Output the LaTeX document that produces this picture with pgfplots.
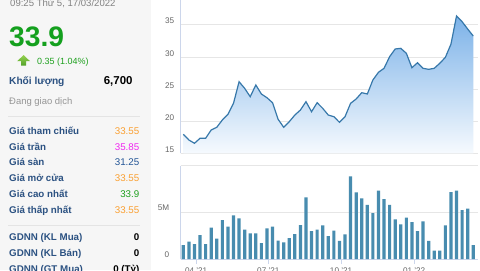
\documentclass[border=0pt]{standalone}
\usepackage{fontspec}
\setmainfont{Liberation Sans}
\usepackage{pgfplots}
\pgfplotsset{compat=1.18}
\usepackage{pgfplotstable}

\definecolor{panelbg}{RGB}{246,246,246}
\definecolor{lblblue}{RGB}{44,82,130}
\definecolor{valorange}{RGB}{250,160,50}
\definecolor{valmag}{RGB}{240,40,240}
\definecolor{valblue}{RGB}{35,85,150}
\definecolor{valgreen}{RGB}{30,160,30}
\definecolor{biggreen}{RGB}{20,160,30}
\definecolor{sepc}{RGB}{228,228,228}
\definecolor{gridc}{RGB}{230,230,230}
\definecolor{axisc}{RGB}{204,214,235}
\definecolor{tickc}{RGB}{102,102,102}
\definecolor{linec}{RGB}{55,120,170}
\definecolor{areatop}{RGB}{124,178,232}
\definecolor{areabot}{RGB}{246,250,254}
\definecolor{barc}{RGB}{72,140,175}

\pgfplotstableread{
i p v
0 17.96 1.5
1 17.07 1.86
2 16.56 1.6
3 17.34 2.57
4 17.34 1.6
5 18.63 3.36
6 19.05 2.18
7 20.19 4.18
8 21.07 3.46
9 22.79 4.68
10 26.15 4.36
11 25.12 3.14
12 23.82 2.75
13 25.64 2.75
14 24.24 1.71
15 23.66 3.29
16 22.88 3.46
17 20.3 1.96
18 19.05 1.79
19 19.92 2.25
20 20.96 2.68
21 21.74 3.64
22 23.04 6.6
23 21.48 3.0
24 22.88 3.14
25 22.0 3.6
26 20.96 2.46
27 20.7 3.04
28 19.83 1.93
29 20.7 2.64
30 22.79 8.86
31 23.46 7.14
32 24.44 6.5
33 24.24 5.79
34 26.42 4.93
35 27.62 7.32
36 28.24 6.43
37 30.05 5.79
38 31.25 4.25
39 31.35 3.71
40 30.58 4.43
41 28.33 3.96
42 29.11 3.0
43 28.24 4.04
44 28.08 1.93
45 28.24 0.89
46 29.02 0.89
47 29.95 3.6
48 32.0 7.18
49 36.39 7.32
50 35.5 5.25
51 34.36 5.39
52 33.27 1.5
}\data

\begin{document}
\begin{tikzpicture}[x=1bp,y=1bp]
\useasboundingbox (0,0) rectangle (480,270);
\clip (0,0) rectangle (480,270);
\fill[white] (0,0) rectangle (480,270);
\fill[panelbg] (0,0) rectangle (151,270);

% left panel
\node[anchor=base west, inner sep=0pt, text={rgb,255:red,130;green,130;blue,130}, font=\fontsize{9.6}{11}\selectfont] at (10,263.5) {09:25 Thứ 5, 17/03/2022};
\node[anchor=base west, inner sep=0pt, text=biggreen, font=\fontsize{28.3}{30}\selectfont\bfseries] at (9,223.3) {33.9};
\shade[top color={rgb,255:red,150;green,210;blue,80}, bottom color={rgb,255:red,80;green,160;blue,40}]
  (23.6,215) -- (30,208.8) -- (26.2,208.8) -- (26.2,204.3) -- (21,204.3) -- (21,208.8) -- (17.2,208.8) -- cycle;
\node[anchor=base west, inner sep=0pt, text=valgreen, font=\fontsize{9}{11}\selectfont] at (37,206) {0.35 (1.04\%)};
\node[anchor=base west, inner sep=0pt, text=lblblue, font=\fontsize{10.2}{12}\selectfont\bfseries] at (9,185.3) {Khối lượng};
\node[anchor=base east, inner sep=0pt, text=black, font=\fontsize{11.5}{13}\selectfont\bfseries] at (132.7,185.7) {6,700};
\node[anchor=base west, inner sep=0pt, text={rgb,255:red,150;green,150;blue,150}, font=\fontsize{9.5}{11}\selectfont] at (9,166) {Đang giao dịch};
\draw[sepc, line width=0.8bp] (8,154) -- (140,154);

\begin{scope}[every node/.style={inner sep=0pt, font=\fontsize{9.8}{12}\selectfont}]
\node[anchor=base west, text=lblblue, font=\fontsize{9.8}{12}\selectfont\bfseries] at (9,135.7) {Giá tham chiếu};
\node[anchor=base east, text=valorange] at (139.5,135.7) {33.55};
\node[anchor=base west, text=lblblue, font=\fontsize{9.8}{12}\selectfont\bfseries] at (9,119.9) {Giá trần};
\node[anchor=base east, text=valmag] at (139.5,119.9) {35.85};
\node[anchor=base west, text=lblblue, font=\fontsize{9.8}{12}\selectfont\bfseries] at (9,104.1) {Giá sàn};
\node[anchor=base east, text=valblue] at (139.5,104.1) {31.25};
\node[anchor=base west, text=lblblue, font=\fontsize{9.8}{12}\selectfont\bfseries] at (9,88.3) {Giá mở cửa};
\node[anchor=base east, text=valorange] at (139.5,88.3) {33.55};
\node[anchor=base west, text=lblblue, font=\fontsize{9.8}{12}\selectfont\bfseries] at (9,72.5) {Giá cao nhất};
\node[anchor=base east, text=valgreen] at (139.5,72.5) {33.9};
\node[anchor=base west, text=lblblue, font=\fontsize{9.8}{12}\selectfont\bfseries] at (9,56.7) {Giá thấp nhất};
\node[anchor=base east, text=valorange] at (139.5,56.7) {33.55};
\node[anchor=base west, text=lblblue, font=\fontsize{9.8}{12}\selectfont\bfseries] at (9,29.5) {GDNN (KL Mua)};
\node[anchor=base east, text=black, font=\fontsize{9.8}{12}\selectfont\bfseries] at (139.5,29.5) {0};
\node[anchor=base west, text=lblblue, font=\fontsize{9.8}{12}\selectfont\bfseries] at (9,13.7) {GDNN (KL Bán)};
\node[anchor=base east, text=black, font=\fontsize{9.8}{12}\selectfont\bfseries] at (139.5,13.7) {0};
\node[anchor=base west, text=lblblue, font=\fontsize{9.8}{12}\selectfont\bfseries] at (9,-2.1) {GDNN (GT Mua)};
\node[anchor=base east, text=black, font=\fontsize{9.8}{12}\selectfont\bfseries] at (139.5,-2.1) {0 (Tỷ)};
\end{scope}
\draw[sepc, line width=0.8bp] (8,45) -- (140,45);

% price chart
\begin{axis}[
  at={(180.7bp,116.7bp)}, anchor=south west, scale only axis,
  width=297bp, height=153.3bp,
  xmin=-0.47, xmax=52.8, ymin=15, ymax=38.88,
  axis lines=left, axis line style={-},
  x axis line style={draw=gridc, line width=1bp},
  y axis line style={draw=axisc, line width=1bp},
  xtick=\empty, ytick={15,20,25,30,35},
  ymajorgrids, grid style={draw=gridc, line width=1bp},
  major tick length=0pt,
  yticklabel style={anchor=east, inner sep=0pt, xshift=-6.4bp, yshift=3.8bp,
    font=\fontsize{8.2}{9}\selectfont, text=tickc},
  /pgf/number format/assume math mode=true,
]
\addplot[draw=none, top color=areatop, bottom color=areabot] table[x=i,y=p]{\data} -- (axis cs:52,15) -- (axis cs:0,15) -- cycle;
\addplot[color=linec, line width=1.2bp, mark=none] table[x=i,y=p]{\data};
\end{axis}

% volume chart
\begin{axis}[
  at={(180.7bp,11bp)}, anchor=south west, scale only axis,
  width=297bp, height=93.3bp,
  xmin=-0.47, xmax=52.8, ymin=0, ymax=10,
  axis lines=left, axis line style={-, draw=axisc, line width=1bp},
  ytick={0,5,10}, yticklabels={0,5M,},
  ymajorgrids, grid style={draw=gridc, line width=1bp},
  xtick={2.3,15.25,28.3,41.4},
  xticklabels={04 '21,07 '21,10 '21,01 '22},
  tick align=outside, major tick length=5bp,
  xtick style={draw=axisc, line width=1bp},
  ytick style={draw=none},
  yticklabel style={anchor=east, inner sep=0pt, xshift=-6.4bp, yshift=4.2bp,
    font=\fontsize{8.2}{9}\selectfont, text=tickc},
  xticklabel style={anchor=north, inner sep=0pt, yshift=-3.3bp,
    font=\fontsize{8.2}{9}\selectfont, text=tickc},
  /pgf/number format/assume math mode=true,
]
\addplot[ybar, bar width=3.2bp, fill=barc, draw=none] table[x=i,y=v]{\data};
\end{axis}
\end{tikzpicture}
\end{document}
